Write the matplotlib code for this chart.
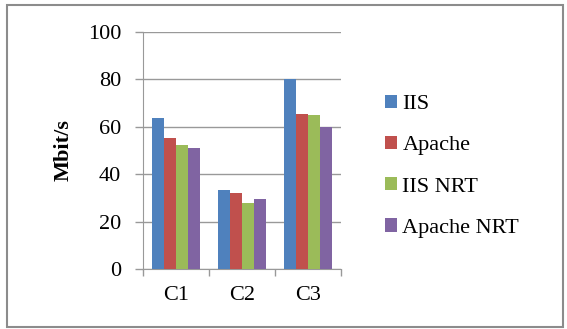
import numpy as np
import matplotlib
matplotlib.use('Agg')
import matplotlib.pyplot as plt
from matplotlib.patches import Rectangle

plt.rcParams['font.family'] = ['Liberation Serif', 'DejaVu Serif']

# throughput per configuration
categories = ['C1', 'C2', 'C3']
series_names = ['IIS', 'Apache', 'IIS NRT', 'Apache NRT']
iis = [63.5, 33.3, 80.0]
apache = [55.4, 32.3, 65.5]
iis_nrt = [52.3, 28.0, 65.0]
apache_nrt = [50.9, 29.4, 60.0]
colors = ['#4F81BD', '#C0504D', '#9BBB59', '#8064A2']

fig = plt.figure(figsize=(5.67, 3.29), dpi=100)
ax = fig.add_axes([0.2517, 0.1815, 0.3497, 0.7221])

x = np.arange(len(categories))
bw = 0.183
for i, (vals, name) in enumerate(zip([iis, apache, iis_nrt, apache_nrt], series_names)):
    ax.bar(x + (i - 1.5) * bw, vals, bw, color=colors[i], label=name, zorder=3)

ax.set_xlim(-0.5, 2.5)
ax.set_ylim(0, 100)
ax.set_yticks(range(0, 101, 20))
ax.set_xticks([-0.5, 0.5, 1.5, 2.5])
ax.set_xticklabels([])
ax.set_xticks(x, minor=True)
ax.set_xticklabels(categories, minor=True)

gc = '#999999'
ax.grid(axis='y', color=gc, linewidth=1, zorder=0)
for s in ['top', 'right']:
    ax.spines[s].set_visible(False)
ax.spines['left'].set_color(gc)
ax.spines['bottom'].set_color(gc)
ax.tick_params(axis='y', length=5.5, width=1, color=gc, labelsize=16, pad=10)
ax.tick_params(axis='x', which='major', length=5, width=1, color=gc)
ax.tick_params(axis='x', which='minor', length=0, labelsize=16, pad=12)

ax.set_ylabel('Mbit/s', fontsize=16, fontweight='bold', labelpad=10)

fig.legend(loc='center left', bbox_to_anchor=(0.66, 0.495), frameon=False,
           fontsize=16, handlelength=0.54, handleheight=0.54,
           handletextpad=0.23, labelspacing=0.98, borderpad=0)

fig.patches.append(Rectangle((0.012, 0.006), 0.981, 0.978, transform=fig.transFigure,
                             fill=False, edgecolor='#8c8c8c', linewidth=1.5))

fig.savefig('out.png', dpi=100)
